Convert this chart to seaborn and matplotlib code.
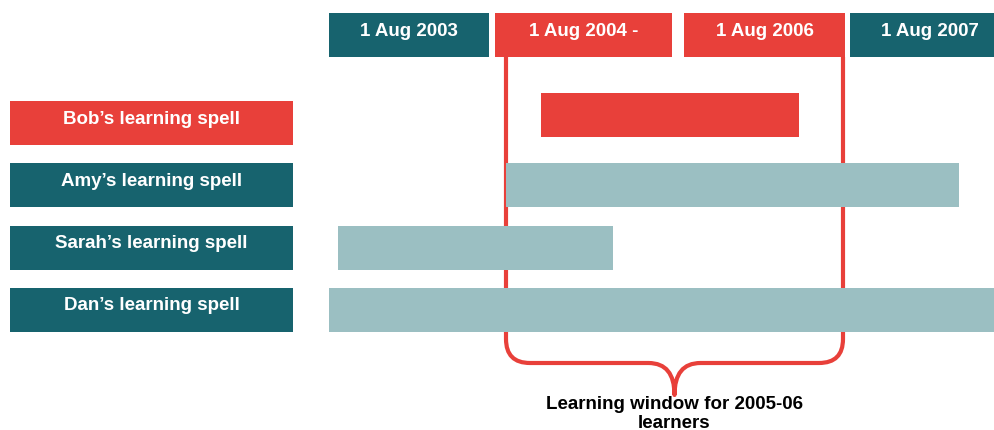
import matplotlib
matplotlib.use("Agg")
import matplotlib.pyplot as plt
import seaborn as sns
import pandas as pd
from matplotlib.path import Path
from matplotlib.patches import PathPatch

# ---- data ----
header_labels = ["1 Aug 2003", "1 Aug 2004 -", "1 Aug 2006", "1 Aug 2007"]
header_start = [329, 495, 684, 850]
header_end = [489, 672, 845, 1010]
header_highlight = [False, True, True, False]

people = ["Bob\u2019s learning spell", "Amy\u2019s learning spell",
          "Sarah\u2019s learning spell", "Dan\u2019s learning spell"]
person_highlight = [True, False, False, False]
label_row = [123, 185, 248, 310]
bar_row = [115, 185, 248, 310]
spell_start = [541, 506, 338, 329]
spell_end = [799, 959, 613, 1000]

window_start = 506
window_end = 843
window_caption = "Learning window for 2005-06\nlearners"

# ---- style ----
TEAL = "#17636e"
RED = "#e8403a"
LIGHT = "#9bbfc2"

sns.set_theme(style="white")
plt.rcParams["font.family"] = ["Liberation Sans", "DejaVu Sans"]

fig = plt.figure(figsize=(9.95, 4.30), dpi=100)
ax = fig.add_axes([0, 0, 1, 1])
ax.set_xlim(0, 995)
ax.set_ylim(430, 0)
ax.axis("off")

df = pd.DataFrame({"person": people, "start": spell_start, "end": spell_end,
                   "row": bar_row, "label_row": label_row, "hl": person_highlight})

# bracket (drawn first, under bars)
bot = 363
r = 24
cx = (window_start + window_end) / 2
tip = 395
verts = [
    (window_start, 57), (window_start, bot - r),
    (window_start, bot), (window_start + r, bot),
    (cx - 26, bot),
    (cx, bot), (cx, tip),
    (cx, bot), (cx + 26, bot),
    (window_end - r, bot),
    (window_end, bot), (window_end, bot - r),
    (window_end, 57),
]
codes = [Path.MOVETO, Path.LINETO,
         Path.CURVE3, Path.CURVE3,
         Path.LINETO,
         Path.CURVE3, Path.CURVE3,
         Path.CURVE3, Path.CURVE3,
         Path.LINETO,
         Path.CURVE3, Path.CURVE3,
         Path.LINETO]
ax.add_patch(PathPatch(Path(verts, codes), fill=False, edgecolor=RED,
                       linewidth=3.0, capstyle="butt", joinstyle="round", zorder=1))

# spell bars
for _, rw in df.iterrows():
    ax.barh(rw["row"], rw["end"] - rw["start"], left=rw["start"], height=44,
            color=RED if rw["hl"] else LIGHT, linewidth=0, zorder=2)
    ax.barh(rw["label_row"], 283, left=10, height=44,
            color=RED if rw["hl"] else TEAL, linewidth=0, zorder=2)
    ax.text(10 + 283 / 2, rw["label_row"] - 4, rw["person"], ha="center", va="center",
            color="white", fontsize=13.5, fontweight="bold", zorder=3)

# header boxes
for lab, s, e, hl in zip(header_labels, header_start, header_end, header_highlight):
    ax.barh(35, e - s, left=s, height=44, color=RED if hl else TEAL,
            linewidth=0, zorder=2)
    ax.text((s + e) / 2, 31, lab, ha="center", va="center", color="white",
            fontsize=13.5, fontweight="bold", zorder=3)

ax.text(cx, 414, window_caption, ha="center", va="center", color="black",
        fontsize=13.5, fontweight="bold", linespacing=1.12, zorder=3)

fig.savefig("out.png", dpi=100, facecolor="white")
